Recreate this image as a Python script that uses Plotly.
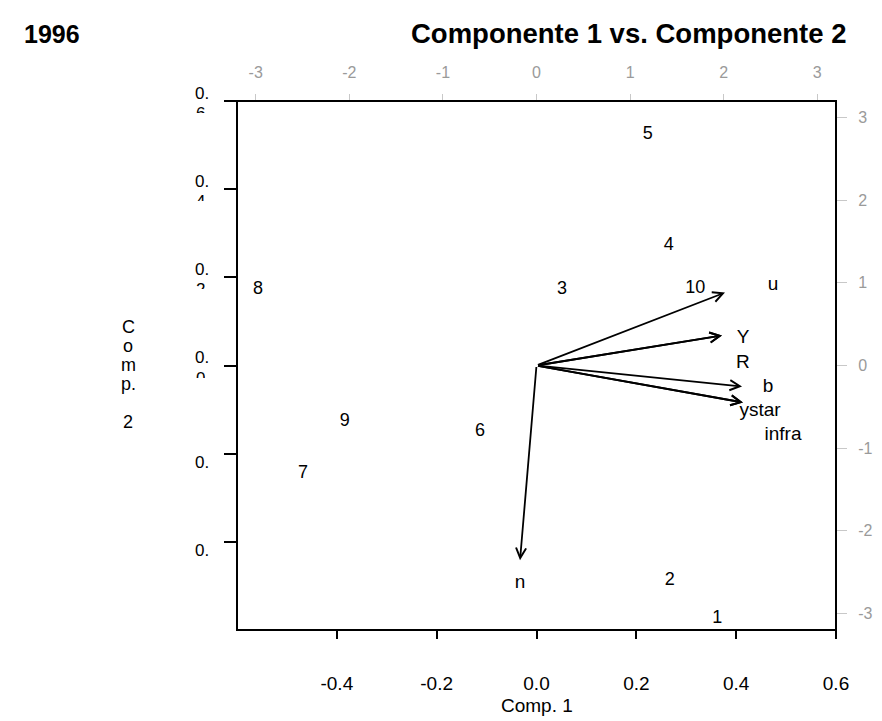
import plotly.graph_objects as go

# The page body has an 8px margin, so the figure is sized to fit the 882x721 window.
BODY = 8
W, H = 882 - BODY, 721 - BODY
BOX_L, BOX_R, BOX_T, BOX_B = 237, 836, 101, 630          # target box, page pixels
ML, MT = BOX_L - BODY, BOX_T - BODY
MR, MB = W - (BOX_R - BODY), H - (BOX_B - BODY)
FONT = "Liberation Sans, Arial, Helvetica, sans-serif"

# observations (scores) - bottom/left axes
obs_labels = ["1", "2", "3", "4", "5", "6", "7", "8", "9", "10"]
comp1 = [0.362, 0.267, 0.051, 0.265, 0.223, -0.113, -0.468, -0.558, -0.384, 0.318]
comp2 = [-0.573, -0.487, 0.172, 0.272, 0.525, -0.149, -0.245, 0.172, -0.127, 0.174]

# variables (loadings) - top/right axes
var_names = ["u", "Y", "R", "b", "ystar", "infra", "n"]
load1 = [2.014, 1.982, 1.982, 2.196, 2.206, 2.206, -0.176]
load2 = [0.882, 0.362, 0.362, -0.254, -0.447, -0.447, -2.355]
lab1 = [2.527, 2.206, 2.206, 2.473, 2.388, 2.634, -0.176]
lab2 = [0.966, 0.326, 0.024, -0.266, -0.556, -0.845, -2.633]

# axes ticks
x_ticks = [-0.4, -0.2, 0.0, 0.2, 0.4, 0.6]
x_ticktext = ["-0.4", "-0.2", "0.0", "0.2", "0.4", "0.6"]
y_ticks = [0.6, 0.4, 0.2, 0.0, -0.2, -0.4]
y_tick_top = ["0.", "0.", "0.", "0.", "0.", "0."]
y_tick_digit = ["6", "4", "2", "0", "", ""]
sec_ticks = [-3, -2, -1, 0, 1, 2, 3]
sec_ticktext = ["-3", "-2", "-1", "0", "1", "2", "3"]
ytitle_letters = ["C", "o", "m", "p.", "2"]
ytitle_rows = [0, 1, 2, 3, 5]

pw, ph = BOX_R - BOX_L, BOX_B - BOX_T


def px_x(px):
    return (px - BOX_L) / pw


def px_y(py):
    return (BOX_B - py) / ph


fig = go.Figure()

fig.add_trace(go.Scatter(
    x=comp1, y=comp2, text=obs_labels, mode="text",
    textfont=dict(family=FONT, size=18, color="black"),
    xaxis="x", yaxis="y", hoverinfo="skip", showlegend=False))

fig.add_trace(go.Scatter(
    x=lab1, y=lab2, text=var_names, mode="text",
    textfont=dict(family=FONT, size=19, color="black"),
    xaxis="x2", yaxis="y2", hoverinfo="skip", showlegend=False))

annotations = []
for lx, ly in zip(load1, load2):
    annotations.append(dict(
        x=lx, y=ly, xref="x2", yref="y2", ax=0, ay=0, axref="x2", ayref="y2",
        text="", showarrow=True, arrowhead=5, arrowsize=1.1, arrowwidth=1.8,
        arrowcolor="black"))

# left tick labels (wrapped / clipped look)
for v, t, d in zip(y_ticks, y_tick_top, y_tick_digit):
    if d:
        annotations.append(dict(x=0, xref="paper", xshift=-35, y=v, yref="y",
                                yshift=8, yanchor="middle", xanchor="center",
                                text=t, showarrow=False,
                                font=dict(family=FONT, size=17, color="black")))
        annotations.append(dict(x=0, xref="paper", xshift=-37, y=v, yref="y",
                                yshift=-1, yanchor="top", xanchor="center",
                                height=9, valign="top",
                                text=d, showarrow=False,
                                font=dict(family=FONT, size=17, color="black")))
    else:
        annotations.append(dict(x=0, xref="paper", xshift=-35, y=v, yref="y",
                                yshift=-9, yanchor="middle", xanchor="center",
                                text=t, showarrow=False,
                                font=dict(family=FONT, size=17, color="black")))

# axis titles
annotations.append(dict(x=0, xref="x", y=px_y(705), yref="paper",
                        yanchor="middle", text="Comp. 1", showarrow=False,
                        font=dict(family=FONT, size=19, color="black")))
for letter, row in zip(ytitle_letters, ytitle_rows):
    annotations.append(dict(x=px_x(128), xref="paper", y=px_y(327 + row * 19),
                            yref="paper", yanchor="middle", xanchor="center",
                            text=letter, showarrow=False,
                            font=dict(family=FONT, size=18, color="black")))

# titles
annotations.append(dict(x=px_x(22), xref="paper", y=px_y(34), yref="paper",
                        xanchor="left", yanchor="middle", text="<b>1996</b>",
                        showarrow=False, font=dict(family=FONT, size=25, color="black")))
annotations.append(dict(x=px_x(628), xref="paper", y=px_y(34), yref="paper",
                        xanchor="center", yanchor="middle",
                        text="<b>Componente 1 vs. Componente 2</b>",
                        showarrow=False, font=dict(family=FONT, size=27.5, color="black")))

fig.update_layout(
    width=W, height=H,
    margin=dict(l=ML, r=MR, t=MT, b=MB, pad=0, autoexpand=False),
    paper_bgcolor="white", plot_bgcolor="white",
    font=dict(family=FONT),
    showlegend=False,
    annotations=annotations,
    xaxis=dict(range=[-0.6, 0.6], tickvals=x_ticks, ticktext=x_ticktext,
               ticks="outside", ticklen=8, tickwidth=2, tickcolor="black",
               showgrid=False, zeroline=False, showline=False, automargin=False,
               tickfont=dict(family=FONT, size=19, color="black"),
               ticklabelstandoff=28, fixedrange=True),
    yaxis=dict(range=[-0.6, 0.6], tickvals=y_ticks, showticklabels=False,
               ticks="outside", ticklen=12, tickwidth=2, tickcolor="black",
               showgrid=False, zeroline=False, showline=False, automargin=False,
               fixedrange=True),
    xaxis2=dict(range=[-3.2, 3.2], overlaying="x", side="top", anchor="y",
                tickvals=sec_ticks, ticktext=sec_ticktext,
                ticks="outside", ticklen=6, tickwidth=1, tickcolor="#c8c8c8",
                showgrid=False, zeroline=False, showline=False, automargin=False,
                tickfont=dict(family=FONT, size=16, color="#9a9a9a"),
                ticklabelstandoff=10, fixedrange=True),
    yaxis2=dict(range=[-3.2, 3.2], overlaying="y", side="right", anchor="x",
                tickvals=sec_ticks, ticktext=sec_ticktext,
                ticks="outside", ticklen=10, tickwidth=1, tickcolor="#c8c8c8",
                showgrid=False, zeroline=False, showline=False, automargin=False,
                tickfont=dict(family=FONT, size=16, color="#9a9a9a"),
                ticklabelstandoff=8, fixedrange=True),
    shapes=[dict(type="rect", xref="paper", yref="paper", x0=0, x1=1, y0=0, y1=1,
                 line=dict(color="black", width=2), layer="above")],
)

fig.write_html("out.html")
